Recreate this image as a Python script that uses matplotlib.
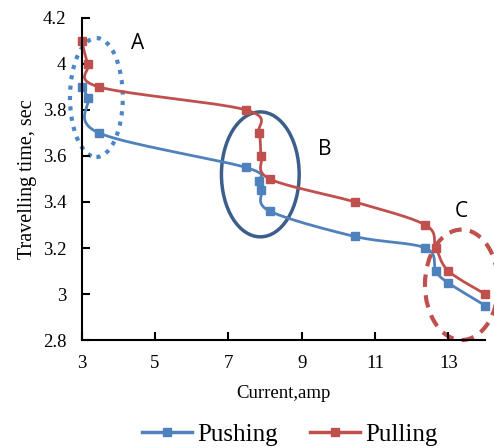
import numpy as np
import matplotlib
matplotlib.use("Agg")
import matplotlib.pyplot as plt
from matplotlib.patches import Ellipse

# Data
push_x = [3.0, 3.17, 3.47, 7.48, 7.83, 7.9, 8.13, 10.45, 12.37, 12.66, 12.98, 14.0]
push_y = [3.9, 3.85, 3.7, 3.55, 3.49, 3.45, 3.36, 3.25, 3.2, 3.1, 3.05, 2.95]
pull_x = [3.0, 3.17, 3.47, 7.48, 7.83, 7.9, 8.13, 10.45, 12.37, 12.66, 13.0, 14.0]
pull_y = [4.1, 4.0, 3.9, 3.8, 3.7, 3.6, 3.5, 3.4, 3.3, 3.2, 3.1, 3.0]
x_ticks = [3, 5, 7, 9, 11, 13]
y_ticks = [2.8, 3.0, 3.2, 3.4, 3.6, 3.8, 4.0, 4.2]

blue = "#4F81BD"
red = "#C0504D"


def smooth(x, y, sx=36.8, sy=230.0, n=20):
    # Catmull-Rom curve through the points (like Excel's smoothed line)
    p = np.column_stack([np.array(x) * sx, np.array(y) * sy])
    p = np.vstack([p[0], p, p[-1]])
    out = []
    for i in range(1, len(p) - 2):
        p0, p1, p2, p3 = p[i - 1], p[i], p[i + 1], p[i + 2]
        t = np.linspace(0, 1, n)[:, None]
        c = 0.5 * ((2 * p1) + (-p0 + p2) * t + (2 * p0 - 5 * p1 + 4 * p2 - p3) * t ** 2
                   + (-p0 + 3 * p1 - 3 * p2 + p3) * t ** 3)
        out.append(c)
    c = np.vstack(out)
    return c[:, 0] / sx, c[:, 1] / sy


fig = plt.figure(figsize=(4.94, 4.48), dpi=100)
ax = fig.add_axes([0.1654, 0.241, 0.8166, 0.719])

sx, sy = smooth(push_x, push_y)
ax.plot(sx, sy, color=blue, lw=2, clip_on=False)
ax.plot(push_x, push_y, ls="none", marker="s", ms=6, color=blue, clip_on=False)
sx, sy = smooth(pull_x, pull_y)
ax.plot(sx, sy, color=red, lw=2, clip_on=False)
ax.plot(pull_x, pull_y, ls="none", marker="s", ms=6, color=red, clip_on=False)

# legend handles
ax.plot([], [], color=blue, lw=2.5, marker="s", ms=6, label="Pushing")
ax.plot([], [], color=red, lw=2.5, marker="s", ms=6, label="Pulling")

# annotation ellipses
ax.add_patch(Ellipse((3.4, 3.854), 1.44, 0.517, angle=0, fill=False,
                     ec="#4A86C8", lw=3, ls=(0, (1, 1.5)), clip_on=False))
ax.add_patch(Ellipse((7.87, 3.52), 2.12, 0.543, angle=0, fill=False,
                     ec="#3B5E8C", lw=2.5, clip_on=False))
ax.add_patch(Ellipse((13.36, 3.04), 2.0, 0.48, angle=0, fill=False,
                     ec=red, lw=3, ls=(0, (3, 2)), clip_on=False))

ax.text(4.53, 4.09, "A", fontsize=15, family="Open Sans", ha="center", va="center")
ax.text(9.63, 3.63, "B", fontsize=15, family="Open Sans", ha="center", va="center")
ax.text(13.36, 3.36, "C", fontsize=15, family="Open Sans", ha="center", va="center")

ax.set_xlim(3, 14)
ax.set_ylim(2.8, 4.2)
ax.set_xticks(x_ticks)
ax.set_yticks(y_ticks)
ax.set_yticklabels(["2.8", "3", "3.2", "3.4", "3.6", "3.8", "4", "4.2"])
for s in ["top", "right"]:
    ax.spines[s].set_visible(False)
for s in ["left", "bottom"]:
    ax.spines[s].set_linewidth(1.5)
ax.tick_params(direction="in", length=6, width=1.5, labelsize=13.5, pad=11)
for lab in ax.get_xticklabels() + ax.get_yticklabels():
    lab.set_family("Liberation Serif")

ax.set_xlabel("Current,amp", family="Liberation Serif", fontsize=13.5, labelpad=9)
ax.set_ylabel("Travelling time, sec", family="Liberation Serif", fontsize=14.5, labelpad=4)

fig.legend(loc="center", bbox_to_anchor=(0.587, 0.03), ncol=2, frameon=False,
           prop={"family": "Liberation Serif", "size": 18}, handlelength=2.0,
           columnspacing=1.3, handletextpad=0.2)

fig.savefig("out.png", dpi=100)
